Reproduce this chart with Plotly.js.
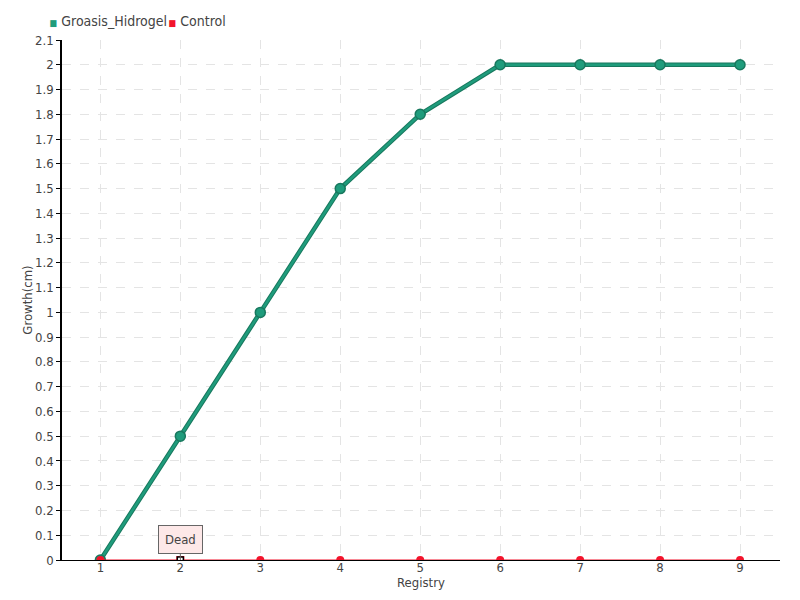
<!DOCTYPE html>
<html><head><meta charset="utf-8">
<script src="https://cdn.plot.ly/plotly-3.0.1.min.js"></script>
<style>body{margin:0}#c{width:800px;height:600px}
#c text{font-stretch:condensed !important}</style>
</head><body><div id="c"></div>
<script>
const registry = [1,2,3,4,5,6,7,8,9];
const groasis = [0,0.5,1,1.5,1.8,2,2,2,2];
const control = [0,0,0,0,0,0,0,0,0];
const seriesNames = ['Groasis_Hidrogel','Control'];
const yTicks = [0,0.1,0.2,0.3,0.4,0.5,0.6,0.7,0.8,0.9,1,1.1,1.2,1.3,1.4,1.5,1.6,1.7,1.8,1.9,2,2.1];
const FONT = '"DejaVu Sans Condensed","DejaVu Sans",sans-serif';
const green = '#1f9c7c', greenDark = '#18785e', red = '#f2142c';
const sq = c => '<span style="color:' + c + ';font-size:9px">■</span> ';
const traces = [
  {x: registry, y: groasis, mode:'lines', line:{color:greenDark, width:4.5}, showlegend:false, hoverinfo:'skip'},
  {x: registry, y: groasis, mode:'lines+markers', name:seriesNames[0], line:{color:green, width:2.5},
   marker:{size:10, color:green, line:{color:greenDark, width:1.5}}, showlegend:false},
  {x: registry, y: control, mode:'lines+markers', name:seriesNames[1], line:{color:red, width:1.2},
   marker:{size:8, color:red,
     symbol: registry.map(v => v===2 ? 'square' : 'circle')}, showlegend:false},
  {x:[2], y:[0], mode:'markers', marker:{symbol:'square', size:6, color:'#fff', line:{color:'#000', width:1.5}}, showlegend:false, hoverinfo:'skip'},
  {x:[null], y:[null], mode:'markers', name:sq(green) + seriesNames[0], marker:{size:0, color:'rgba(0,0,0,0)', line:{width:0}}},
  {x:[null], y:[null], mode:'markers', name:sq(red) + seriesNames[1], marker:{size:0, color:'rgba(0,0,0,0)', line:{width:0}}}
];
const layout = {
  width:800, height:600,
  margin:{l:62, r:20, t:40, b:40, autoexpand:false},
  paper_bgcolor:'#fff', plot_bgcolor:'#fff',
  font:{family:FONT, size:13, color:'#444'},
  showlegend:true,
  legend:{orientation:'h', x:0.012, xref:'container', y:0.992, yref:'container', yanchor:'top', xanchor:'left',
    font:{size:14, color:'#444'}, itemwidth:30, tracegroupgap:0, bgcolor:'rgba(0,0,0,0)', entrywidth:74},
  xaxis:{range:[0.52,9.5], tickvals:registry, ticktext:registry.map(String), showgrid:true,
    gridcolor:'#e4e4e4', griddash:'dash', zeroline:false, showline:true, linecolor:'#000', linewidth:1,
    ticks:'', ticklabelstandoff:-5, automargin:false,
    title:{text:'Registry', font:{size:13, color:'#444'}, standoff:0}},
  yaxis:{range:[0,2.1], tickvals:yTicks, ticktext:yTicks.map(String), showgrid:true,
    gridcolor:'#e4e4e4', griddash:'dash', zeroline:false, showline:true, linecolor:'#000', linewidth:1.5,
    ticks:'outside', ticklen:4, tickcolor:'#000', automargin:false,
    title:{text:'Growth(cm)', font:{size:13, color:'#444'}, standoff:0}},
  annotations:[{x:2, y:0, xref:'x', yref:'y', text:'Dead', showarrow:true, arrowhead:0, arrowwidth:1,
    arrowcolor:'#666', ax:0, ay:-21, bgcolor:'#fde8e8', bordercolor:'#666', borderwidth:1, borderpad:6,
    font:{size:13, color:'#444'}}]
};
Plotly.newPlot('c', traces, layout, {displayModeBar:false});
</script></body></html>
